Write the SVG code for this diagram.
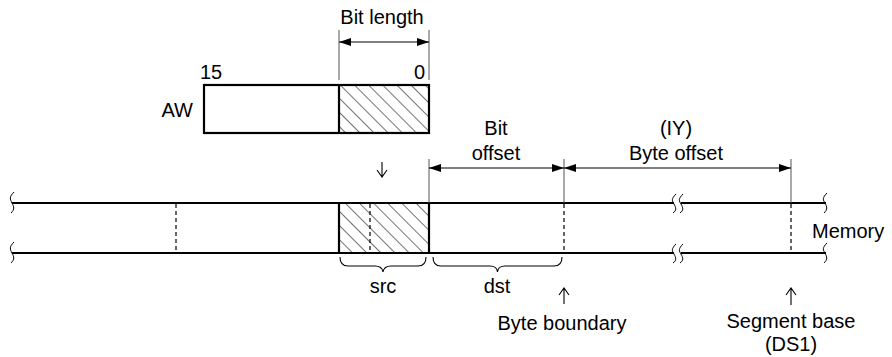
<svg xmlns="http://www.w3.org/2000/svg" width="892" height="357" viewBox="0 0 892 357">
<style>
text{font-family:"Liberation Sans",Arial,sans-serif;font-size:20px;fill:#000}
.m{text-anchor:middle}
.e{text-anchor:end}
.thick{stroke:#000;stroke-width:2.2;fill:none}
.thin{stroke:#000;stroke-width:1.1;fill:none}
.tick{stroke:#555;stroke-width:1;fill:none}
.dash{stroke:#000;stroke-width:1.2;stroke-dasharray:4,3;fill:none}
.sq{stroke:#000;stroke-width:1;fill:none}
.dim{stroke:#000;stroke-width:1;fill:none;marker-start:url(#ah);marker-end:url(#ah)}
</style>
<defs>
<marker id="ah" viewBox="0 0 12 8" refX="12" refY="4" markerWidth="12" markerHeight="8" markerUnits="userSpaceOnUse" orient="auto-start-reverse">
<path d="M0,0 L12,4 L0,8 z" fill="#000"/>
</marker>
<pattern id="hatch" patternUnits="userSpaceOnUse" width="10" height="10" patternTransform="rotate(-45)">
<line x1="0" y1="0" x2="0" y2="10" stroke="#000" stroke-width="1.1"/>
</pattern>
</defs>

<g id="aw-register">
<rect x="339" y="85" width="90" height="48" fill="url(#hatch)"/>
<rect x="204" y="85" width="225" height="48" class="thick"/>
<line x1="339" y1="85" x2="339" y2="133" class="thick"/>
<text x="193" y="117" class="e">AW</text>
<text x="200" y="79">15</text>
<text x="425" y="79" class="e">0</text>
</g>

<g id="bit-length">
<line x1="339" y1="30" x2="339" y2="80" class="tick"/>
<line x1="429" y1="30" x2="429" y2="80" class="tick"/>
<line x1="339" y1="42" x2="429" y2="42" class="dim"/>
<text x="382" y="24" class="m">Bit length</text>
</g>

<g id="memory">
<rect x="339" y="203" width="90" height="50" fill="url(#hatch)"/>
<line x1="12" y1="203" x2="674" y2="203" class="thick"/>
<line x1="681" y1="203" x2="826" y2="203" class="thick"/>
<line x1="12" y1="253" x2="674" y2="253" class="thick"/>
<line x1="681" y1="253" x2="826" y2="253" class="thick"/>
<line x1="339" y1="203" x2="339" y2="253" class="thick"/>
<line x1="429" y1="203" x2="429" y2="253" class="thick"/>
<line x1="176" y1="204" x2="176" y2="252" class="dash"/>
<line x1="370" y1="204" x2="370" y2="252" class="dash"/>
<line x1="564" y1="204" x2="564" y2="252" class="dash"/>
<line x1="791" y1="204" x2="791" y2="252" class="dash"/>
<path d="M14,192 C9,197 10,199 12,203 C14,207 15,209 11,213" class="sq"/>
<path d="M14,242 C9,247 10,249 12,253 C14,257 15,259 11,263" class="sq"/>
<path d="M827,193 C822,198 823,200 825,203 C827,207 828,209 824,213" class="sq"/>
<path d="M827,243 C822,248 823,250 825,253 C827,257 828,259 824,263" class="sq"/>
<path d="M676,194 C671,199 672,201 674,204 C676,208 677,210 673,213" class="sq"/>
<path d="M683,194 C678,199 679,201 681,204 C683,208 684,210 680,213" class="sq"/>
<path d="M676,244 C671,249 672,251 674,254 C676,258 677,260 673,263" class="sq"/>
<path d="M683,244 C678,249 679,251 681,254 C683,258 684,260 680,263" class="sq"/>
<text x="812" y="238">Memory</text>
</g>

<g id="offsets">
<line x1="429" y1="159" x2="429" y2="203" class="tick"/>
<line x1="564" y1="159" x2="564" y2="203" class="tick"/>
<line x1="791" y1="159" x2="791" y2="203" class="tick"/>
<text x="496" y="135" class="m">Bit</text>
<text x="496" y="160" class="m">offset</text>
<text x="676" y="135" class="m">(IY)</text>
<text x="676" y="160" class="m">Byte offset</text>
</g>

<g id="src">
<path d="M340,257 Q340,266 348,266 L375,266 Q382,266 383,272 Q384,266 391,266 L418,266 Q426,266 426,257" class="thin"/>
<text x="383" y="293" class="m">src</text>
</g>

<g id="dst">
<path d="M433,257 Q433,266 441,266 L490,266 Q497,266 497.5,272 Q498,266 505,266 L554,266 Q562,266 562,257" class="thin"/>
<text x="497" y="293" class="m">dst</text>
</g>

<g id="byte-boundary">
<text x="562" y="330" class="m">Byte boundary</text>
</g>

<g id="segment-base">
<text x="791" y="328" class="m">Segment base</text>
<text x="791" y="351" class="m">(DS1)</text>
</g>

<g id="connectors">
<line x1="429" y1="168" x2="564" y2="168" class="dim"/>
<line x1="564" y1="168" x2="791" y2="168" class="dim"/>
<path d="M382,162 L382,177 M377,170 L382,177 L387,170" class="thin"/>
<path d="M564,304 L564,288 M559,295 L564,288 L569,295" class="thin"/>
<path d="M791,305 L791,288 M786,295 L791,288 L796,295" class="thin"/>
</g>
</svg>
